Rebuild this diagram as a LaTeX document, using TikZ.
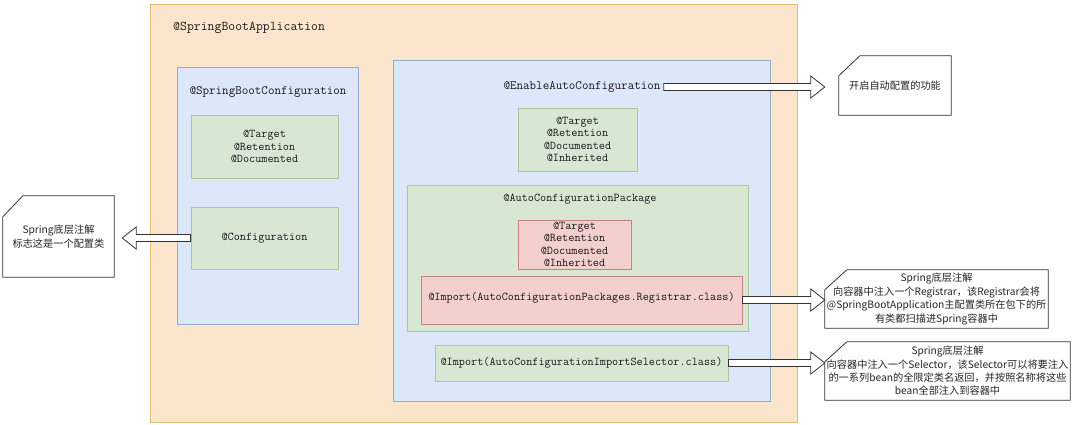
\documentclass[tikz,border=0pt]{standalone}
\usepackage{fontspec}
\setmainfont{Liberation Sans}
\newfontfamily\cjk{Noto Sans CJK SC}
\usetikzlibrary{calc,backgrounds}

\definecolor{appfill}{HTML}{FBE6CD}
\definecolor{appline}{HTML}{E2BC72}
\definecolor{cfgfill}{HTML}{DCE7FA}
\definecolor{cfgline}{HTML}{98AED6}
\definecolor{metafill}{HTML}{D8E7D4}
\definecolor{metaline}{HTML}{A6C89A}
\definecolor{redfill}{HTML}{F3D0CD}
\definecolor{redline}{HTML}{C8837F}

\newcommand{\sbapptitle}{\ttfamily\fontsize{13.4}{15}\selectfont}
\newcommand{\sbtitlefont}{\ttfamily\fontsize{12.7}{15}\selectfont}
\newcommand{\sbannofont}{\ttfamily\fontsize{11.9}{12.4}\selectfont}
\newcommand{\sbnotefont}{\cjk\fontsize{10.2}{13.4}\selectfont}

% hollow block arrow, horizontal, from #1 to the tip #2
\newcommand{\flexarrow}[2]{%
  \draw[flex] let \p1=(#1), \p2=(#2), \n1={\x2-14*ifthenelse(\x2>\x1,1,-1)} in
    (\x1,{\y1+3.5pt}) -- ({\n1*1pt},{\y1+3.5pt}) -- ({\n1*1pt},{\y1+11pt})
    -- (\x2,\y1) -- ({\n1*1pt},{\y1-11pt}) -- ({\n1*1pt},{\y1-3.5pt})
    -- (\x1,{\y1-3.5pt}) -- cycle;}

\begin{document}
\begin{tikzpicture}[x=1pt, y=-1pt,
    box/.style={rectangle, draw, line width=0.8pt, inner sep=0pt, text=black!90},
    appbox/.style={box, draw=appline, fill=appfill},
    cfgbox/.style={box, draw=cfgline, fill=cfgfill},
    metabox/.style={box, draw=metaline, fill=metafill, align=center, font=\sbannofont},
    redbox/.style={box, draw=redline, fill=redfill, align=center, font=\sbannofont},
    title/.style={inner sep=0pt, font=\sbtitlefont, text=black!90},
    note/.style={inner sep=0pt, align=center, font=\sbnotefont, text=black!85},
    card/.style={draw=black!80, fill=white, line width=0.8pt},
    flex/.style={draw=black!80, fill=white, line width=0.8pt, line join=miter}
]
\useasboundingbox (0,0) rectangle (1080,424);

% containers
\node[appbox, minimum width=647pt, minimum height=418pt] (app) at (473.5,213) {};
\node[title, font=\sbapptitle, anchor=west] (apptitle) at (173,28) {@SpringBootApplication};

\node[cfgbox, minimum width=181pt, minimum height=257pt] (sbc) at (267.5,195.5) {};
\node[title] (sbctitle) at (268,92) {@SpringBootConfiguration};
\node[metabox, minimum width=147pt, minimum height=63pt] (sbcmeta) at (264.5,146.5) {@Target\\@Retention\\@Documented};
\node[metabox, minimum width=147pt, minimum height=62pt] (conf) at (264.5,238) {@Configuration};

\node[cfgbox, minimum width=377pt, minimum height=341pt] (enable) at (581.5,230.5) {};
\node[title] (entitle) at (582,87) {@EnableAutoConfiguration};
\node[metabox, minimum width=119pt, minimum height=63pt] (enmeta) at (577.5,139.5) {@Target\\@Retention\\@Documented\\@Inherited};

\node[metabox, minimum width=341pt, minimum height=146pt] (acp) at (577.5,258) {};
\node[title, font=\sbannofont] (acptitle) at (580,199) {@AutoConfigurationPackage};
\node[redbox, minimum width=113pt, minimum height=49pt] (acpmeta) at (574.5,244.5) {@Target\\@Retention\\@Documented\\@Inherited};
\node[redbox, minimum width=321pt, minimum height=48pt, text depth=8pt] (regimport) at (581.5,300) {@Import(AutoConfigurationPackages.Registrar.class)};

\node[metabox, minimum width=293pt, minimum height=36pt] (selimport) at (581.5,363) {@Import(AutoConfigurationImportSelector.class)};

% notes
\node[note, minimum width=111pt, minimum height=81pt] (leftnote) at (58.5,236.5) {Spring底层注解\\标志这是一个配置类};
\node[note, minimum width=112pt, minimum height=59pt] (note1) at (895,85.5) {开启自动配置的功能};
\node[note, minimum width=223pt, minimum height=58pt] (note2) at (936.5,299) {Spring底层注解\\向容器中注入一个Registrar，该Registrar会将\\@SpringBootApplication主配置类所在包下的所\\有类都扫描进Spring容器中};
\node[note, minimum width=245pt, minimum height=58pt] (note3) at (947.5,371) {Spring底层注解\\向容器中注入一个Selector，该Selector可以将要注入\\的一系列bean的全限定类名返回，并按照名称将这些\\bean全部注入到容器中};

\begin{scope}[on background layer]
  \fill[white] (0,0) rectangle (1080,424);
  \foreach \n/\cx/\cy in {leftnote/20/21, note1/21/20, note2/22/20, note3/22/20}
    \draw[card] ([yshift=-\cy pt]\n.north west) -- ([xshift=\cx pt]\n.north west)
      -- (\n.north east) -- (\n.south east) -- (\n.south west) -- cycle;
\end{scope}

% block arrows
\flexarrow{conf.west}{$(leftnote.east)+(8,0)$}
\flexarrow{$(entitle.east)+(3,0)$}{$(note1.west)+(-14,0)$}
\flexarrow{regimport.east}{note2.west}
\flexarrow{selimport.east}{note3.west}

\end{tikzpicture}
\end{document}
